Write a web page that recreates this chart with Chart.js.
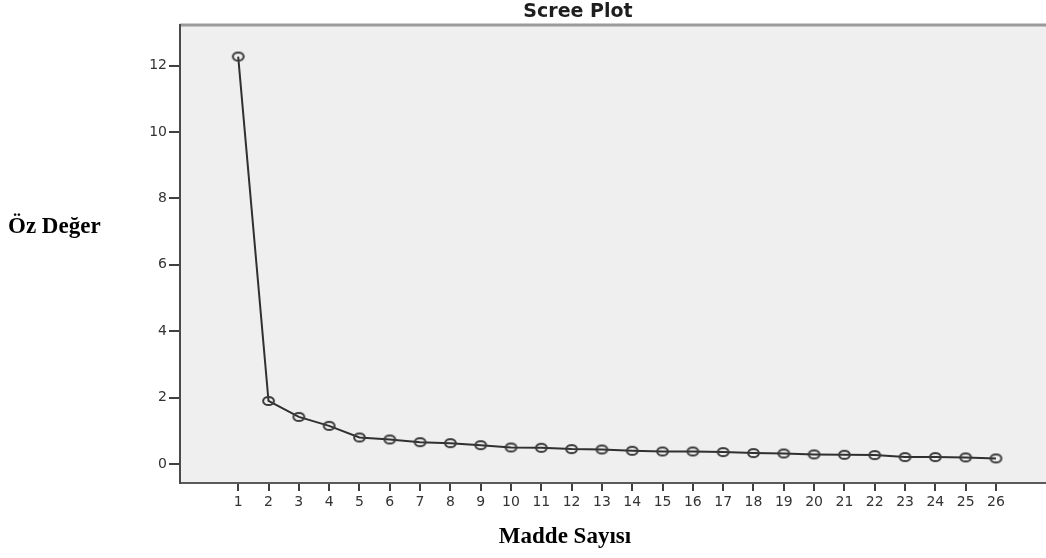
<!DOCTYPE html>
<html>
<head>
<meta charset="utf-8">
<title>Scree Plot</title>
<script src="https://cdn.jsdelivr.net/npm/chart.js@4/dist/chart.umd.min.js"></script>
<style>
    html, body { margin: 0; padding: 0; background: #fff; overflow: hidden; }
    #wrap { width: 1046px; height: 558px; position: relative; }
</style>
</head>
<body>
<div id="wrap"><canvas id="scree"></canvas></div>
<script>
// Component numbers (x axis) and eigenvalues
const components = [1, 2, 3, 4, 5, 6, 7, 8, 9, 10, 11, 12, 13, 14, 15, 16, 17, 18, 19, 20, 21, 22, 23, 24, 25, 26];
const eigenvalues = [12.27, 1.90, 1.42, 1.15, 0.80, 0.74, 0.66, 0.63, 0.57, 0.50, 0.49, 0.45, 0.44,
                     0.40, 0.38, 0.38, 0.36, 0.33, 0.32, 0.29, 0.28, 0.27, 0.21, 0.21, 0.20, 0.17];
const yTicks = [0, 2, 4, 6, 8, 10, 12];

const titleText = 'Scree Plot';
const yLabel = 'Öz Değer';
const xLabel = 'Madde Sayısı';

/**
 * Hollow, slightly flattened circle used as the point marker
 */
function makeMarker() {
    const c = document.createElement('canvas');
    c.width = 15;
    c.height = 12;
    const g = c.getContext('2d');
    g.strokeStyle = '#3a3a3a';
    g.lineWidth = 2;
    g.beginPath();
    g.ellipse(7.5, 6, 5.4, 4.1, 0, 0, Math.PI * 2);
    g.stroke();
    return c;
}

// Plot background, top frame line and the text around the plot
const frame = {
    id: 'frame',
    beforeDraw(chart) {
        const { ctx, chartArea: a } = chart;
        ctx.save();
        ctx.fillStyle = '#efefef';
        ctx.fillRect(a.left, a.top, a.right - a.left, a.bottom - a.top);
        ctx.strokeStyle = '#9a9a9a';
        ctx.lineWidth = 3;
        ctx.beginPath();
        ctx.moveTo(a.left, a.top);
        ctx.lineTo(a.right, a.top);
        ctx.stroke();
        ctx.restore();
    },
    afterDraw(chart) {
        const { ctx } = chart;
        ctx.save();
        ctx.fillStyle = '#1e1e1e';
        ctx.font = 'bold 19px "DejaVu Sans", sans-serif';
        ctx.textAlign = 'center';
        ctx.textBaseline = 'alphabetic';
        ctx.fillText(titleText, 578, 17);

        ctx.fillStyle = '#000';
        ctx.font = 'bold 23px "Liberation Serif", "Times New Roman", serif';
        ctx.textAlign = 'left';
        ctx.fillText(yLabel, 8, 233);
        ctx.textAlign = 'center';
        ctx.fillText(xLabel, 565, 543);
        ctx.restore();
    }
};

document.addEventListener('DOMContentLoaded', () => {
    const ctx = document.getElementById('scree').getContext('2d');

    new Chart(ctx, {
        type: 'line',
        data: {
            datasets: [{
                data: components.map((c, i) => ({ x: c, y: eigenvalues[i] })),
                borderColor: '#303030',
                borderWidth: 2,
                tension: 0,
                fill: false,
                pointStyle: makeMarker(),
                pointRadius: 5,
                pointHoverRadius: 5
            }]
        },
        options: {
            responsive: true,
            maintainAspectRatio: false,
            animation: false,
            layout: {
                autoPadding: false,
                padding: { top: 25, left: 0, right: 0, bottom: 0 }
            },
            plugins: {
                legend: { display: false },
                title: { display: false },
                tooltip: { enabled: false }
            },
            scales: {
                x: {
                    type: 'linear',
                    min: -0.92,
                    max: 27.65,
                    afterBuildTicks: (scale) => {
                        scale.ticks = components.map(v => ({ value: v }));
                    },
                    afterFit: (scale) => { scale.height = 75; },
                    grid: {
                        drawOnChartArea: false,
                        drawTicks: true,
                        tickLength: 8,
                        tickColor: '#404040',
                        lineWidth: 2
                    },
                    border: { display: true, color: '#5a5a5a', width: 2 },
                    ticks: {
                        autoSkip: false,
                        maxRotation: 0,
                        padding: 3,
                        color: '#333',
                        font: { family: '"DejaVu Sans", sans-serif', size: 14 }
                    }
                },
                y: {
                    min: -0.57,
                    max: 13.22,
                    afterBuildTicks: (scale) => {
                        scale.ticks = yTicks.map(v => ({ value: v }));
                    },
                    afterFit: (scale) => { scale.width = 180; },
                    grid: {
                        drawOnChartArea: false,
                        drawTicks: true,
                        tickLength: 11,
                        tickColor: '#404040',
                        lineWidth: 2
                    },
                    border: { display: true, color: '#4a4a4a', width: 2 },
                    ticks: {
                        padding: 2,
                        color: '#333',
                        font: { family: '"DejaVu Sans", sans-serif', size: 14 }
                    }
                }
            }
        },
        plugins: [frame]
    });
});
</script>
</body>
</html>
